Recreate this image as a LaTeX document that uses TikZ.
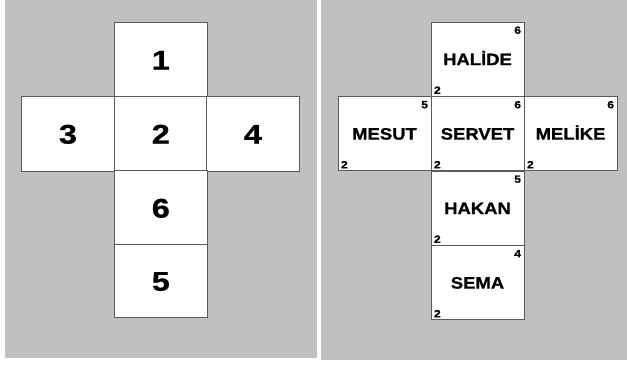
\documentclass[tikz,border=0pt]{standalone}
\usepackage{fontspec}
\setmainfont{Liberation Sans}[BoldFeatures={FakeBold=0.8}]
\definecolor{panelgray}{HTML}{C0C0C0}
\definecolor{linec}{HTML}{5A5A5A}
\newcommand{\hstretch}[2]{\scalebox{#1}[1]{#2}}
\begin{document}
\begin{tikzpicture}[x=1pt,y=-1pt,
  face/.style={draw=linec,fill=white,line width=0.7pt,minimum width=93pt,minimum height=74.3pt,inner sep=0pt,outer sep=0pt,anchor=north west},
  bigdig/.style={font=\fontsize{27}{27}\selectfont\bfseries,text height=19.3pt,text depth=0pt},
  facename/.style={font=\fontsize{16.5}{16.5}\selectfont\bfseries,text height=11.9pt,text depth=0pt},
  corner/.style={font=\fontsize{10.5}{10.5}\selectfont\bfseries,inner sep=0pt,outer sep=0pt}]
\useasboundingbox (0,0) rectangle (627,365);
\fill[white] (0,0) rectangle (627,365);
\fill[panelgray] (5,0) rectangle (317,358);
\fill[panelgray] (321,0) rectangle (627,360);
% left net
\node[face,bigdig] (l1) at (114.3,22.7) {\hstretch{1.2}{1}};
\node[face,bigdig] (l3) at (21.5,96.8) {\hstretch{1.2}{3}};
\node[face,bigdig] (l2) at (114.3,96.8) {\hstretch{1.2}{2}};
\node[face,bigdig] (l4) at (206.5,96.8) {\hstretch{1.2}{4}};
\node[face,bigdig] (l6) at (114.3,170.8) {\hstretch{1.2}{6}};
\node[face,bigdig,minimum height=73.5pt] (l5) at (114.3,244.3) {\hstretch{1.2}{5}};
% right net
\node[face,facename] (halide) at (431,22) {\hstretch{1.12}{HALİDE}};
\node[face,facename] (mesut) at (338,96.5) {\hstretch{1.12}{MESUT}};
\node[face,facename] (servet) at (431,96.5) {\hstretch{1.12}{SERVET}};
\node[face,facename] (melike) at (524,96.5) {\hstretch{1.12}{MELİKE}};
\node[face,facename] (hakan) at (431,171) {\hstretch{1.12}{HAKAN}};
\node[face,facename] (sema) at (431,245.5) {\hstretch{1.12}{SEMA}};
% corner numbers
\foreach \f/\t in {halide/6,mesut/5,servet/6,melike/6,hakan/5,sema/4}{
  \node[corner,anchor=north east] (\f-tr) at ([shift={(-3,4.5)}]\f.north east) {\hstretch{1.15}{\t}};
  \node[corner,anchor=south west] (\f-bl) at ([shift={(3,-2.5)}]\f.south west) {\hstretch{1.15}{2}};
}
\end{tikzpicture}
\end{document}
